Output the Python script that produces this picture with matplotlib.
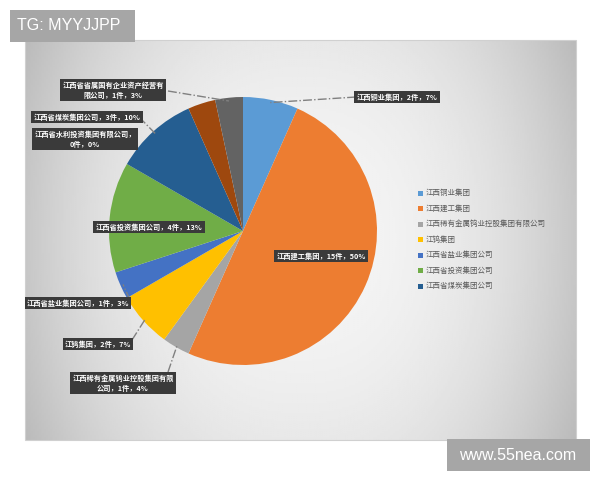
import numpy as np
import matplotlib.pyplot as plt
from matplotlib.patches import Rectangle

plt.rcParams['font.family'] = ['Noto Sans CJK SC', 'DejaVu Sans']

# datos
names = ['江西铜业集团', '江西建工集团', '江西稀有金属钨业控股集团有限公司', '江钨集团',
         '江西省盐业集团公司', '江西省投资集团公司', '江西省煤炭集团公司',
         '江西省水利投资集团有限公司', '', '江西省省属国有企业资产经营有限公司']
counts = [2, 15, 1, 2, 1, 4, 3, 0, 1, 1]
pct_text = ['7%', '50%', '4%', '7%', '3%', '13%', '10%', '0%', '', '3%']
colors = ['#5B9BD5', '#ED7D31', '#A5A5A5', '#FFC000', '#4472C4', '#70AD47',
          '#255E91', '#9E480E', '#9E480E', '#636363']
legend_n = 7

W, H = 600, 480
fig = plt.figure(figsize=(6, 4.8), dpi=100)
ax = fig.add_axes([0, 0, 1, 1])


def Y(y):
    return H - y


# fondo del grafico con degradado
gx = np.linspace(-1, 1, 300)
gy = np.linspace(-1, 1, 200)
GX, GY = np.meshgrid(gx, gy)
grad = 0.96 - 0.18 * (GX ** 2) ** 1.2 - 0.05 * GY ** 2
ax.imshow(grad, cmap='gray', vmin=0, vmax=1, extent=(25, 576, Y(440), Y(40)),
          aspect='auto', zorder=0)
ax.add_patch(Rectangle((25, Y(440)), 551, 400, fill=False, ec='#d0d0d0', lw=0.8, zorder=1))

# pie
cx, cy, r = 243, Y(231), 134
wedges, _ = ax.pie(counts, colors=colors, startangle=90, counterclock=False,
                   center=(cx, cy), radius=r, frame=True,
                   wedgeprops=dict(linewidth=0, zorder=2))
ax.set_xlim(0, W)
ax.set_ylim(0, H)
ax.set_aspect('auto')
ax.axis('off')


def edge_pt(i, f=1.0):
    w = wedges[i]
    a = np.deg2rad((w.theta1 + w.theta2) / 2)
    return cx + f * r * np.cos(a), cy + f * r * np.sin(a)


def label(i, txt, x, y):
    ax.text(x, Y(y), txt, ha='center', va='center', fontsize=5.2, color='white',
            fontweight='bold', linespacing=1.5, zorder=5,
            bbox=dict(boxstyle='square,pad=0.3', fc='#3a3a3a', ec='none'))


def leader(i, x, y, f=0.98):
    ex, ey = edge_pt(i, f)
    ax.plot([x, ex], [Y(y), ey], color='#808080', lw=1.0, ls='-.', zorder=4)


def txt(i):
    return f'{names[i]}，{counts[i]}件，{pct_text[i]}'


label(0, txt(0), 397, 97)
leader(0, 356, 97)
label(1, txt(1), 321, 256)
label(2, '江西稀有金属钨业控股集团有限\n公司，1件，4%', 123, 383)
leader(2, 168, 372)
label(3, txt(3), 98, 344)
leader(3, 132, 340)
label(4, txt(4), 78, 303)
leader(4, 130, 300)
label(5, txt(5), 149, 227)
label(6, txt(6), 87, 117)
leader(6, 139, 117)
label(7, '江西省水利投资集团有限公司，\n0件，0%', 85, 139)
label(9, '江西省省属国有企业资产经营有\n限公司，1件，3%', 113, 90)
ax.plot([168, 229], [Y(91), Y(101)], color='#808080', lw=1.0, ls='-.', zorder=4)

# leyenda
for k in range(legend_n):
    yy = Y(193 + k * 15.5)
    ax.add_patch(Rectangle((418, yy - 2.5), 5, 5, fc=colors[k], ec='none', zorder=3))
    ax.text(426, yy, names[k], fontsize=5.4, color='#595959', va='center', zorder=3)

# marcas de agua
ax.add_patch(Rectangle((10, Y(42)), 125, 32, fc='#a6a6a6', ec='none', zorder=6))
ax.text(17, Y(26), 'TG: MYYJJPP', fontsize=11.5, color='white', va='center',
        family='Liberation Sans', zorder=7)
ax.add_patch(Rectangle((447, Y(471)), 143, 32, fc='#a6a6a6', ec='none', zorder=6))
ax.text(518, Y(455), 'www.55nea.com', fontsize=11.5, color='white', va='center',
        ha='center', family='Liberation Sans', zorder=7)

fig.savefig('out.png', dpi=100)
